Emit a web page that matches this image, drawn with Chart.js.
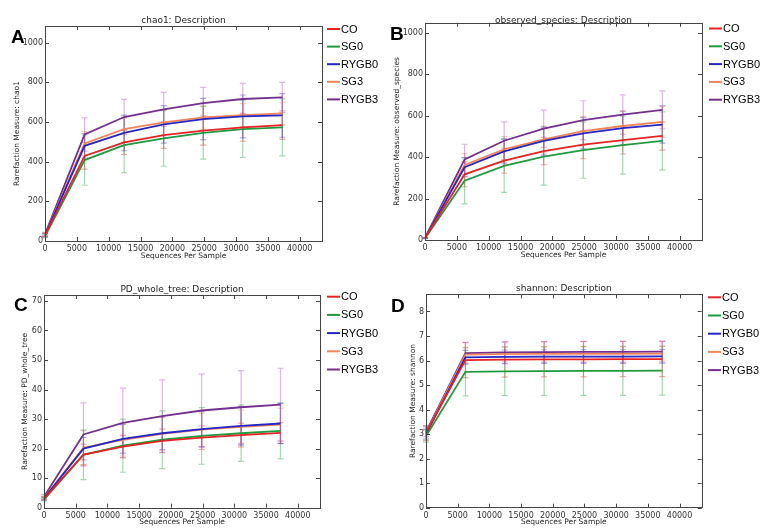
<!DOCTYPE html>
<html>
<head>
<meta charset="utf-8">
<script src="https://cdn.jsdelivr.net/npm/chart.js@4.4.1/dist/chart.umd.min.js"></script>
<style>
  body { margin: 0; background: #fff; width: 765px; height: 531px; overflow: hidden; position: relative; }
  canvas { position: absolute; }
  .tag { position: absolute; font: bold 19px "Liberation Sans", Arial, sans-serif; line-height: 19px; color: #000; }
</style>
</head>
<body>
<canvas id="chartA" width="380" height="265" style="left:0;top:0"></canvas>
<canvas id="chartB" width="385" height="265" style="left:380px;top:0"></canvas>
<canvas id="chartC" width="380" height="266" style="left:0;top:265px"></canvas>
<canvas id="chartD" width="385" height="266" style="left:380px;top:265px"></canvas>
<div class="tag" style="left:11px;top:27px">A</div>
<div class="tag" style="left:390px;top:24px">B</div>
<div class="tag" style="left:14px;top:295px">C</div>
<div class="tag" style="left:391px;top:296px">D</div>
<script>
// rarefaction depths (sequences per sample)
var seqDepth = [10, 6220, 12430, 18640, 24850, 31060, 37270];
var groups = ['CO', 'SG0', 'RYGB0', 'SG3', 'RYGB3'];
var groupColors = ['#e62222', '#1f9a3e', '#2626c4', '#f0845a', '#732f8c'];
var barColors = ['rgba(230,34,34,0.4)', 'rgba(31,154,62,0.4)', 'rgba(38,38,196,0.4)', 'rgba(240,132,90,0.45)', 'rgba(170,70,190,0.4)'];
var xTicks = [0, 5000, 10000, 15000, 20000, 25000, 30000, 35000, 40000];

// chao1, one row per group (CO, SG0, RYGB0, SG3, RYGB3)
var chao1Mean = [
  [30, 429, 497, 534, 557, 573, 584],
  [25, 408, 483, 517, 545, 564, 573],
  [30, 480, 545, 588, 615, 628, 633],
  [32, 492, 564, 598, 623, 635, 643],
  [35, 537, 625, 664, 695, 716, 724]
];
var chao1Sd = [
  [8, 67, 61, 67, 74, 70, 72],
  [8, 127, 138, 140, 132, 143, 144],
  [8, 62, 90, 95, 104, 108, 110],
  [8, 60, 65, 62, 60, 58, 56],
  [8, 84, 89, 85, 80, 79, 76]
];
var chao1Ticks = [0, 200, 400, 600, 800, 1000];

// observed_species
var observedMean = [
  [10, 317, 383, 429, 460, 482, 502],
  [9, 286, 358, 402, 434, 458, 478],
  [10, 351, 428, 478, 515, 540, 557],
  [10, 362, 437, 485, 525, 550, 570],
  [11, 389, 479, 537, 578, 605, 628]
];
var observedSd = [
  [2, 60, 61, 66, 68, 67, 68],
  [2, 112, 128, 137, 136, 140, 140],
  [2, 45, 60, 68, 75, 82, 90],
  [2, 55, 62, 65, 70, 72, 75],
  [2, 73, 91, 90, 94, 95, 92]
];
var observedTicks = [0, 200, 400, 600, 800, 1000];

// PD_whole_tree
var pdMean = [
  [3.0, 18.0, 20.7, 22.6, 23.7, 24.6, 25.3],
  [2.8, 17.9, 21.0, 23.0, 24.3, 25.2, 26.0],
  [3.2, 20.0, 23.3, 25.2, 26.6, 27.7, 28.5],
  [3.3, 20.3, 23.0, 25.0, 26.4, 27.4, 28.1],
  [3.8, 24.8, 28.7, 31.0, 32.9, 34.0, 34.9]
];
var pdSd = [
  [0.5, 3.5, 3.8, 4.0, 4.0, 4.0, 3.5],
  [0.5, 8.4, 9.0, 9.8, 9.6, 9.5, 9.5],
  [0.5, 3.8, 4.8, 5.5, 6.0, 6.5, 6.8],
  [0.5, 5.8, 5.5, 5.6, 5.6, 5.6, 5.6],
  [0.6, 10.7, 11.8, 12.3, 12.3, 12.4, 12.3]
];
var pdTicks = [0, 10, 20, 30, 40, 50, 60, 70];

// shannon
var shannonMean = [
  [3.05, 6.02, 6.04, 6.05, 6.05, 6.06, 6.06],
  [2.92, 5.54, 5.56, 5.57, 5.58, 5.58, 5.59],
  [3.00, 6.13, 6.15, 6.16, 6.16, 6.16, 6.17],
  [3.05, 6.24, 6.26, 6.27, 6.27, 6.27, 6.28],
  [3.10, 6.30, 6.33, 6.34, 6.35, 6.35, 6.36]
];
var shannonSd = [
  [0.3, 0.72, 0.72, 0.72, 0.72, 0.72, 0.72],
  [0.25, 0.98, 0.99, 0.99, 1.0, 1.0, 1.0],
  [0.2, 0.28, 0.28, 0.28, 0.28, 0.28, 0.28],
  [0.3, 0.3, 0.3, 0.3, 0.3, 0.3, 0.3],
  [0.2, 0.43, 0.43, 0.43, 0.43, 0.43, 0.43]
];
var shannonTicks = [0, 1, 2, 3, 4, 5, 6, 7, 8];

// error bars, frame with inward ticks, and the legend to the right
var rarefactionDecor = {
  id: 'rarefactionDecor',
  beforeDatasetsDraw: function (chart) {
    var ctx = chart.ctx, x = chart.scales.x, y = chart.scales.y;
    ctx.save();
    ctx.lineWidth = 1.2;
    chart.data.datasets.forEach(function (ds) {
      ctx.strokeStyle = ds.barColor;
      ds.data.forEach(function (pt, i) {
        var px = x.getPixelForValue(pt.x);
        var top = y.getPixelForValue(pt.y + ds.err[i]);
        var bot = y.getPixelForValue(pt.y - ds.err[i]);
        ctx.beginPath();
        ctx.moveTo(px, top); ctx.lineTo(px, bot);
        ctx.moveTo(px - 3, top); ctx.lineTo(px + 3, top);
        ctx.moveTo(px - 3, bot); ctx.lineTo(px + 3, bot);
        ctx.stroke();
      });
    });
    ctx.restore();
  },
  afterDraw: function (chart, args, opts) {
    var ctx = chart.ctx, a = chart.chartArea, x = chart.scales.x, y = chart.scales.y;
    ctx.save();
    ctx.strokeStyle = '#444';
    ctx.lineWidth = 1;
    ctx.strokeRect(Math.round(a.left) + 0.5, Math.round(a.top) + 0.5, Math.round(a.right - a.left), Math.round(a.bottom - a.top));
    ctx.beginPath();
    x.ticks.forEach(function (t) {
      var px = Math.round(x.getPixelForValue(t.value)) + 0.5;
      ctx.moveTo(px, a.bottom); ctx.lineTo(px, a.bottom - 4);
      ctx.moveTo(px, a.top); ctx.lineTo(px, a.top + 4);
    });
    y.ticks.forEach(function (t) {
      var py = Math.round(y.getPixelForValue(t.value)) + 0.5;
      ctx.moveTo(a.left, py); ctx.lineTo(a.left + 4, py);
      ctx.moveTo(a.right, py); ctx.lineTo(a.right - 4, py);
    });
    ctx.stroke();

    // legend
    ctx.font = '11px "Liberation Sans", Arial, sans-serif';
    ctx.textBaseline = 'middle';
    ctx.fillStyle = '#000';
    chart.data.datasets.forEach(function (ds, k) {
      var ly = opts.top + k * opts.gap;
      ctx.strokeStyle = ds.borderColor;
      ctx.lineWidth = 2;
      ctx.beginPath();
      ctx.moveTo(opts.left, ly); ctx.lineTo(opts.left + 13, ly);
      ctx.stroke();
      ctx.fillText(ds.label, opts.left + 14, ly + 0.5);
    });
    ctx.restore();
  }
};

var tickFont = { family: 'DejaVu Sans', size: 8 };
var labelFont = { family: 'DejaVu Sans', size: 7.5, lineHeight: 1.2 };

function makePanel(id, p) {
  var datasets = groups.map(function (g, k) {
    return {
      label: g,
      data: seqDepth.map(function (d, i) { return { x: d, y: p.mean[k][i] }; }),
      err: p.sd[k],
      barColor: barColors[k],
      borderColor: groupColors[k],
      backgroundColor: groupColors[k],
      borderWidth: 1.8,
      pointRadius: 0,
      tension: 0,
      fill: false
    };
  });
  new Chart(document.getElementById(id), {
    type: 'line',
    data: { datasets: datasets },
    options: {
      responsive: false,
      animation: false,
      layout: { padding: { right: p.padRight } },
      plugins: {
        legend: { display: false },
        tooltip: { enabled: false },
        title: {
          display: true,
          fullSize: false,
          text: p.title,
          color: '#222',
          font: { family: 'DejaVu Sans', size: 9, weight: 'normal', lineHeight: 0.2 },
          padding: { top: p.titleTop, bottom: p.titleBottom }
        },
        rarefactionDecor: { left: p.legLeft, top: p.legTop, gap: p.legGap }
      },
      scales: {
        x: {
          type: 'linear',
          min: 0,
          max: 43500,
          afterBuildTicks: function (s) { s.ticks = xTicks.map(function (v) { return { value: v }; }); },
          afterFit: function (s) { s.height = p.xH; },
          grid: { display: false, drawTicks: false },
          border: { display: false },
          ticks: { font: tickFont, color: '#333', padding: 3, maxRotation: 0, autoSkip: false,
                   callback: function (v) { return String(v); } },
          title: { display: true, text: 'Sequences Per Sample', color: '#222', font: labelFont,
                   padding: { top: 0, bottom: p.xTitlePad } }
        },
        y: {
          type: 'linear',
          min: 0,
          max: p.yMax,
          afterBuildTicks: function (s) { s.ticks = p.yTicks.map(function (v) { return { value: v }; }); },
          afterFit: function (s) { s.width = p.yW; },
          grid: { display: false, drawTicks: false },
          border: { display: false },
          ticks: { font: tickFont, color: '#333', padding: 2, autoSkip: false,
                   callback: function (v) { return String(v); } },
          title: { display: true, text: p.yLabel, color: '#222', font: labelFont,
                   padding: { top: p.yTitlePad, bottom: 0 } }
        }
      }
    },
    plugins: [rarefactionDecor]
  });
}

makePanel('chartA', {
  title: 'chao1: Description', yLabel: 'Rarefaction Measure: chao1',
  mean: chao1Mean, sd: chao1Sd, yTicks: chao1Ticks, yMax: 1084,
  padRight: 58, yW: 45, xH: 24, titleTop: 20.1, titleBottom: 4.1,
  yTitlePad: 12.8, xTitlePad: 4.5, legLeft: 327, legTop: 29, legGap: 17.6
});
makePanel('chartB', {
  title: 'observed_species: Description', yLabel: 'Rarefaction Measure: observed_species',
  mean: observedMean, sd: observedSd, yTicks: observedTicks, yMax: 1048,
  padRight: 63, yW: 45, xH: 25, titleTop: 19.6, titleBottom: 1.4,
  yTitlePad: 12.2, xTitlePad: 5.5, legLeft: 329, legTop: 28.5, legGap: 17.8
});
makePanel('chartC', {
  title: 'PD_whole_tree: Description', yLabel: 'Rarefaction Measure: PD_whole_tree',
  mean: pdMean, sd: pdSd, yTicks: pdTicks, yMax: 72,
  padRight: 60, yW: 44, xH: 23.3, titleTop: 23.4, titleBottom: 4.8,
  yTitlePad: 20.5, xTitlePad: 4.8, legLeft: 327, legTop: 31.7, legGap: 18.2
});
makePanel('chartD', {
  title: 'shannon: Description', yLabel: 'Rarefaction Measure: shannon',
  mean: shannonMean, sd: shannonSd, yTicks: shannonTicks, yMax: 8.7,
  padRight: 63.3, yW: 46, xH: 23.3, titleTop: 22.8, titleBottom: 4.7,
  yTitlePad: 28.8, xTitlePad: 4.2, legLeft: 328, legTop: 32.3, legGap: 18.2
});
</script>
</body>
</html>
